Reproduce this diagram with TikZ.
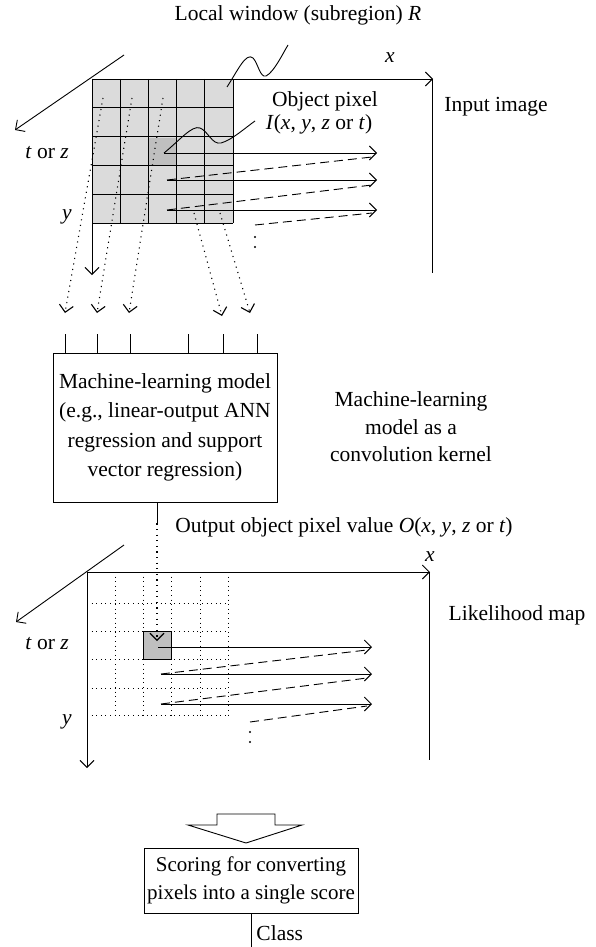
\documentclass[tikz,border=0pt]{standalone}
\usepackage{fontspec}
\setmainfont{Liberation Serif}
\usetikzlibrary{arrows.meta,positioning}

\tikzset{
  >={Straight Barb[length=7pt,width=14pt]},
  lbl/.style={font=\fontsize{21.5}{29.5}\selectfont, inner sep=0pt},
  boxed/.style={draw, lbl, align=center},
  dots/.style={line width=1.1pt, dash pattern=on 1.1pt off 4.5pt},
  gdots/.style={line width=1pt, dash pattern=on 1pt off 3.6pt},
  scan/.style={dash pattern=on 9pt off 5pt},
}
\newcommand{\iv}[1]{\textit{#1}}

\begin{document}
\begin{tikzpicture}[x=1pt,y=-1pt,line width=0.9pt]
\useasboundingbox (0,0) rectangle (595,947);

% input image with local window
\fill[black!14] (92,79) rectangle (233,223);
\fill[black!25] (148,138) rectangle (176,166);
\foreach \i in {0,...,5}{
  \draw (92+28.2*\i,79) -- (92+28.2*\i,223);
  \draw (92,79+28.8*\i) -- (233,79+28.8*\i);
}
\coordinate (org) at (92,79);
\draw[->] (org) -- (433,79);
\draw (432,79) -- (432,273);
\draw[->] (org) -- (92,275);
\draw[->] (124,55) -- (15,130);

\node[lbl] (window) at (298,15) {Local window (subregion) \iv{R}};
\node[lbl] (xin) at (390,58) {\iv{x}};
\node[lbl] (objpix) at (325,101) {Object pixel};
\node[lbl] (objval) at (319,124) {\iv{I}(\iv{x}, \iv{y}, \iv{z} or \iv{t})};
\node[lbl] (inputlbl) at (496,107) {Input image};
\node[lbl] (tin) at (47,153) {\iv{t} or \iv{z}};
\node[lbl] (yin) at (67,217) {\iv{y}};

% leaders
\draw (227,87) .. controls (238,70) and (246,52) .. (253,58)
  .. controls (258,63) and (260,78) .. (266,76)
  .. controls (274,72) and (282,55) .. (288,45);
\draw (164,153) .. controls (180,140) and (192,125) .. (200,128)
  .. controls (208,131) and (212,145) .. (221,143)
  .. controls (232,140) and (245,128) .. (255,121);

% scanning
\draw[->] (164,153) -- (377,153);
\draw[->] (167,180) -- (377,180);
\draw[->] (167,210) -- (377,210);
\draw[scan] (167,180) -- (372,157);
\draw[scan] (167,210) -- (372,185);
\draw[scan] (255,225) -- (372,213);
\fill (255,237) circle (1.1pt) (255,247) circle (1.1pt);

% window pixels into the model
\draw[dots,->] (103,98) -- (65,313);
\draw[dots,->] (132,98) -- (97,313);
\draw[dots,->] (163,98) -- (129,313);
\draw[dots,->] (194,213) -- (222,316);
\draw[dots,->] (220,213) -- (250,313);

\node[boxed, minimum width=224pt, minimum height=149pt] (model) at (165,427.5)
  {Machine-learning model\\(e.g., linear-output ANN\\regression and support\\vector regression)};
\foreach \x in {65,97,130,188,223,257}
  \draw (\x,334) -- (\x,353);
\node[lbl, align=center] (kernel) at (411,427)
  {Machine-learning\\[-2pt]model as a\\[-2pt]convolution kernel};

% likelihood map
\foreach \x in {115,143,171,200,228}
  \draw[gdots] (\x,572) -- (\x,715);
\foreach \y in {603,631,659,688,715}
  \draw[gdots] (87,\y) -- (228,\y);
\draw[fill=black!25] (143,631) rectangle (171,659);
\coordinate (opix) at (157,645);
\draw (opix |- model.south) -- ++(0,21) coordinate (odot);
\draw[dots,->] (odot) -- (157,641);
\node[lbl, anchor=west] (outlbl) at (175,527)
  {Output object pixel value \iv{O}(\iv{x}, \iv{y}, \iv{z} or \iv{t})};

\coordinate (org2) at (87,572);
\draw[->] (org2) -- (430,572);
\draw (429,572) -- (429,760);
\draw[->] (org2) -- (87,768);
\draw[->] (124,545) -- (16,622);
\node[lbl] (xout) at (430,557) {\iv{x}};
\node[lbl] (tout) at (47,644) {\iv{t} or \iv{z}};
\node[lbl] (yout) at (67,722) {\iv{y}};
\node[lbl] (likelbl) at (517,615) {Likelihood map};

\draw[->] (158,647) -- (372,647);
\draw[->] (161,674) -- (372,674);
\draw[->] (161,704) -- (372,704);
\draw[scan] (161,674) -- (367,650);
\draw[scan] (161,704) -- (367,678);
\draw[scan] (250,722) -- (367,706);
\fill (250,732) circle (1.1pt) (250,742) circle (1.1pt);

% scoring
\draw (217,814) -- (275,814) -- (275,825) -- (302,825) -- (246,843)
  -- (188,825) -- (217,825) -- cycle;
\node[boxed, font=\fontsize{21}{28.5}\selectfont, minimum width=214pt,
  minimum height=65pt] (score) at (251,880.5)
  {Scoring for converting\\pixels into a single score};
\coordinate (bot) at (0,947);
\draw (score.south) -- (score.south |- bot);
\node[lbl, anchor=west] (classlbl) at (256,933) {Class};
\end{tikzpicture}
\end{document}
